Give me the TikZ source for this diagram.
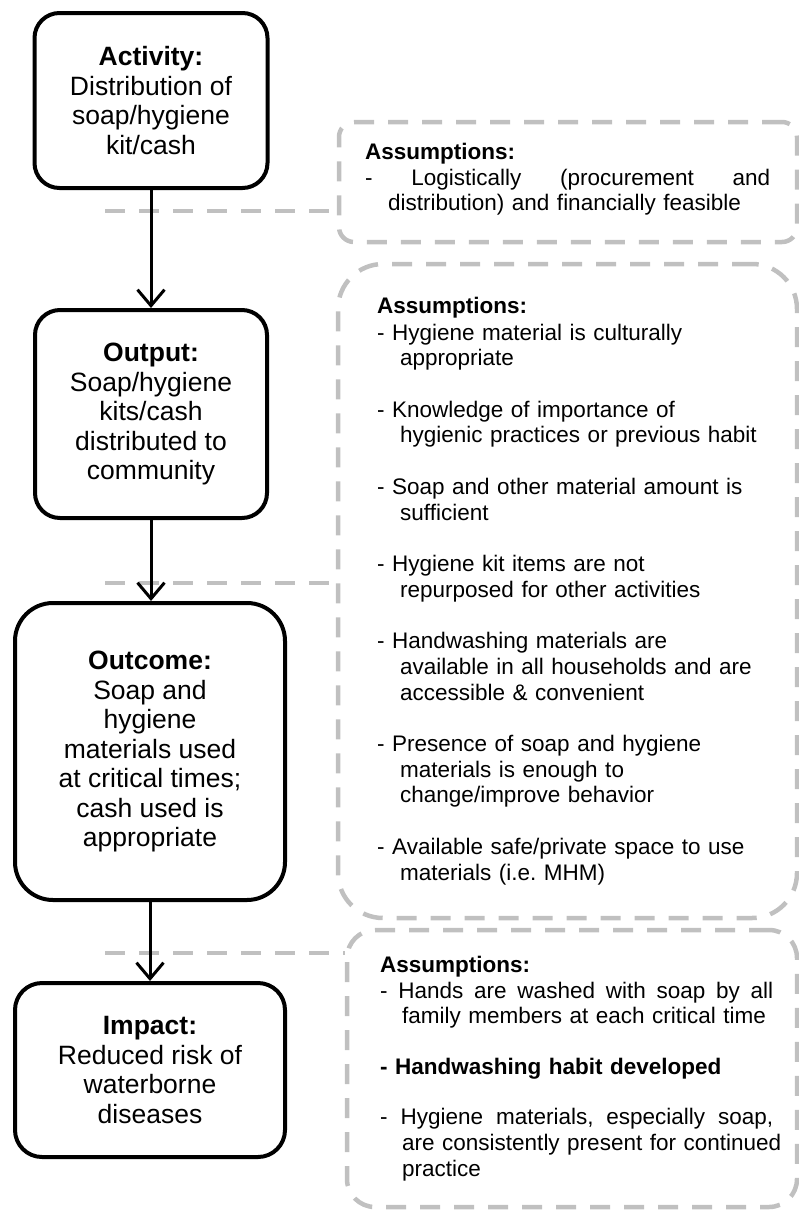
\documentclass[tikz,border=0pt]{standalone}
\usepackage{fontspec}
\setmainfont{Liberation Sans}
\usetikzlibrary{arrows.meta}
\definecolor{dashgray}{RGB}{192,192,192}
\tikzset{
  stage/.style={draw=black, line width=4pt, align=center, inner sep=0pt,
    font=\fontsize{26.5}{29.5}\selectfont},
  asmbox/.style={draw=dashgray, line width=4.5pt, dash pattern=on 20pt off 14pt, inner sep=0pt},
  asmtext/.style={font=\fontsize{22.5}{25.6}\selectfont, align=left, text width=430pt,
    anchor=base west, inner sep=0pt},
  flow/.style={line width=3pt, -{Straight Barb[length=16pt,width=27pt]}},
  link/.style={draw=dashgray, line width=4.5pt, dash pattern=on 20pt off 14pt},
}
\newcommand{\spreadline}[2]{\leavevmode\hbox to #1{#2}}
\begin{document}
\begin{tikzpicture}[x=1pt,y=-1pt]
\useasboundingbox (0,0) rectangle (799,1211);

% assumption boxes
\node[asmbox, rounded corners=15pt, minimum width=458pt, minimum height=120pt] (a1) at (568,182) {};
\node[asmbox, rounded corners=45pt, minimum width=459pt, minimum height=654pt] (a2) at (567.5,591) {};
\node[asmbox, rounded corners=28pt, minimum width=450pt, minimum height=277pt] (a3) at (572,1068.5) {};

% dashed links
\coordinate (l1) at (105,211);
\coordinate (l2) at (105,583);
\coordinate (l3) at (105,953);
\draw[link] (l1) -- (l1 -| a1.west);
\draw[link] (l2) -- (l2 -| a2.west);
\draw[link] (l3) -- (l3 -| a3.west);

% stages
\node[stage, rounded corners=25pt, minimum width=233pt, minimum height=175pt] (act) at (151,100.5)
  {\textbf{Activity:}\\Distribution of\\soap/hygiene\\kit/cash};
\node[stage, rounded corners=25pt, minimum width=232pt, minimum height=208pt] (out) at (151,414)
  {\textbf{Output:}\\Soap/hygiene\\kits/cash\\distributed to\\community};
\node[stage, rounded corners=38pt, minimum width=270pt, minimum height=297pt] (outc) at (150,751.5)
  {\textbf{Outcome:}\\Soap and\\hygiene\\materials used\\at critical times;\\cash used is\\appropriate};
\node[stage, rounded corners=27pt, minimum width=270pt, minimum height=174pt] (imp) at (150,1070)
  {\textbf{Impact:}\\Reduced risk of\\waterborne\\diseases};

% arrows
\draw[flow] (act.south) -- (act.south |- out.north);
\draw[flow] (out.south) -- (out.south |- outc.north);
\draw[flow] (outc.south) -- (outc.south |- imp.north);

% assumption texts
\node[asmtext] (t1) at (365,159)
  {\textbf{Assumptions:}\\[0.5pt]
   \spreadline{405pt}{-\hfill Logistically\hfill (procurement\hfill and}\\
   \hspace*{23pt}distribution) and financially feasible};

\node[asmtext] (t2) at (377,313)
  {\textbf{Assumptions:}\\[1.4pt]
   - Hygiene material is culturally\\
   \hspace*{23pt}appropriate\\[26pt]
   - Knowledge of importance of\\
   \hspace*{23pt}hygienic practices or previous habit\\[26pt]
   - Soap and other material amount is\\
   \hspace*{23pt}sufficient\\[26pt]
   - Hygiene kit items are not\\
   \hspace*{23pt}repurposed for other activities\\[26pt]
   - Handwashing materials are\\
   \hspace*{23pt}available in all households and are\\
   \hspace*{23pt}accessible \& convenient\\[26pt]
   - Presence of soap and hygiene\\
   \hspace*{23pt}materials is enough to\\
   \hspace*{23pt}change/improve behavior\\[26pt]
   - Available safe/private space to use\\
   \hspace*{23pt}materials (i.e.\ MHM)};

\node[asmtext] (t3) at (380,972)
  {\textbf{Assumptions:}\\[0.5pt]
   \spreadline{393pt}{-\hfill Hands\hfill are\hfill washed\hfill with\hfill soap\hfill by\hfill all}\\
   \hspace*{22pt}family members at each critical time\\[25pt]
   \textbf{- Handwashing habit developed}\\[25pt]
   \spreadline{393pt}{-\hfill Hygiene\hfill materials,\hfill especially\hfill soap,}\\
   \hspace*{22pt}are consistently present for continued\\
   \hspace*{22pt}practice};
\end{tikzpicture}
\end{document}
